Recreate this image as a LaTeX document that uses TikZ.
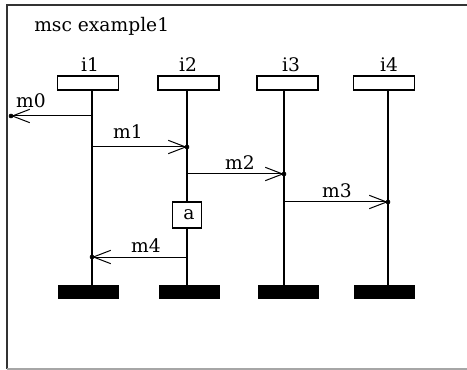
\documentclass[tikz,border=0pt]{standalone}
\usepackage{fontspec}
\setmainfont{DejaVu Serif}
\usetikzlibrary{arrows.meta}
\tikzset{instbox/.style={draw,line width=0.8pt,minimum width=45.75pt,minimum height=10.5pt,inner sep=0pt},
  endbar/.style={fill=black,minimum width=45.75pt,minimum height=10.5pt,inner sep=0pt},
  msg/.style={line width=0.75pt,-{Straight Barb[length=13pt,width=10pt,line width=0.75pt]}},
  lbl/.style={font=\fontsize{14}{16}\selectfont,inner sep=0pt}}

\begin{document}
\begin{tikzpicture}[x=0.75pt,y=-0.75pt]
\useasboundingbox (0,0) rectangle (467,370);
\draw[line width=1.6pt,black!80] (7,369)--(7,5)--(467,5);
\draw[line width=1pt,black!35] (7,369)--(467,369);
\node[lbl,anchor=west] (title) at (34,26) {msc example1};
% instance heads
\node[instbox] (h1) at (88,83) {};
\node[instbox] (h2) at (188.5,83) {};
\node[instbox] (h3) at (287.5,83) {};
\node[instbox] (h4) at (384,83) {};
\node[lbl] (n1) at (90,65) {i1};
\node[lbl] (n2) at (188,65) {i2};
\node[lbl] (n3) at (291,65) {i3};
\node[lbl] (n4) at (389,65) {i4};
% instance ends
\node[endbar] (e1) at (88,292) {};
\node[endbar] (e2) at (189,292) {};
\node[endbar] (e3) at (288,292) {};
\node[endbar] (e4) at (384,292) {};
% action
\node[draw,line width=0.8pt,minimum width=21.75pt,minimum height=19.5pt,inner sep=0pt,lbl] (act) at (187,215) {\hspace*{3pt}a};
\draw[line width=1.1pt] (92,90)--(92,286);
\draw[line width=1.1pt] (187,90)--(act.north) (act.south)--(187,286);
\draw[line width=1.1pt] (284,90)--(284,286);
\draw[line width=1.1pt] (388,90)--(388,286);
% messages
\coordinate (m0a) at (92,116); \coordinate (m0b) at (11,116);
\coordinate (m1a) at (92,147); \coordinate (m1b) at (187,147);
\coordinate (m2a) at (187,174); \coordinate (m2b) at (284,174);
\coordinate (m3a) at (284,202); \coordinate (m3b) at (388,202);
\coordinate (m4a) at (187,257); \coordinate (m4b) at (92,257);
\draw[msg] (m0a)--(m0b); \draw[msg] (m1a)--(m1b); \draw[msg] (m2a)--(m2b);
\draw[msg] (m3a)--(m3b); \draw[msg] (m4a)--(m4b);
\filldraw (m0b) circle (1.5pt); \filldraw (m1b) circle (1.5pt); \filldraw (m2b) circle (1.5pt);
\filldraw (m3b) circle (1.5pt); \filldraw (m4b) circle (1.5pt);
\node[lbl] (l0) at (31,101) {m0};
\node[lbl] (l1) at (128,132) {m1};
\node[lbl] (l2) at (240,163) {m2};
\node[lbl] (l3) at (337,191) {m3};
\node[lbl] (l4) at (146,246) {m4};
\end{tikzpicture}
\end{document}
